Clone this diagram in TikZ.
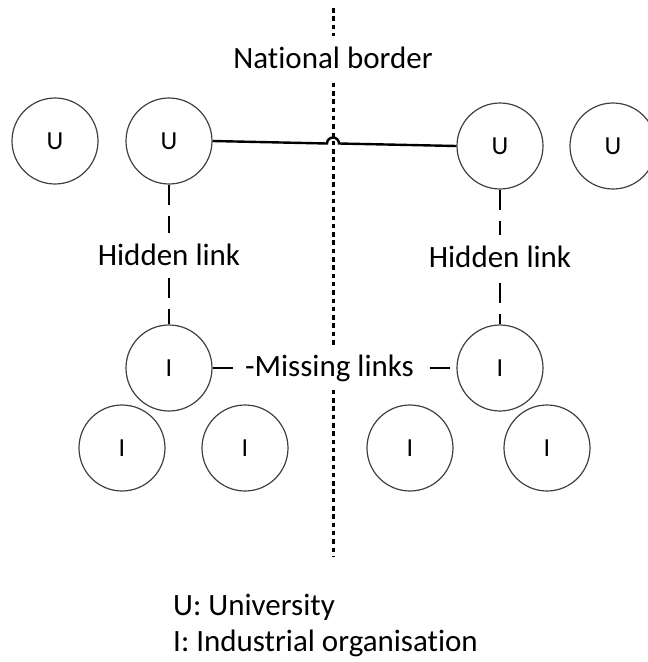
\documentclass[tikz,border=0pt]{standalone}
\usepackage{fontspec}
\setmainfont[Ligatures={NoCommon}]{Carlito}
\begin{document}
\begin{tikzpicture}[x=1pt,y=-1pt,
  org/.style={circle, draw=black!75, line width=1.2pt, minimum size=86pt,
    inner sep=0pt, font=\fontsize{26}{30}\selectfont},
  tag/.style={fill=white, inner xsep=8pt, inner ysep=0pt, minimum height=44pt,
    font=\fontsize{31}{37}\selectfont},
  legend/.style={anchor=base west, inner sep=0pt, font=\fontsize{31}{37}\selectfont},
  border/.style={line width=3pt, dash pattern=on 4.5pt off 3.8pt},
  hidden/.style={line width=2.8pt, dash pattern=on 20pt off 11pt},
  tie/.style={line width=2.4pt},
]
\useasboundingbox (0,0) rectangle (648,662);

% universities
\node[org] (u1) at (55,141) {U};
\node[org] (u2) at (169,141) {U};
\node[org] (u3) at (500,146) {U};
\node[org] (u4) at (613,146) {U};

% industrial organisations
\node[org] (i1) at (169,368) {I};
\node[org] (i2) at (500,368) {I};
\node[org] (i3) at (122,448) {I};
\node[org] (i4) at (245,448) {I};
\node[org] (i5) at (410,448) {I};
\node[org] (i6) at (547,448) {I};

% the border between the two countries
\coordinate (btop) at (333,8);
\coordinate (bbot) at (333,557);
\draw[border] (btop) -- (bbot);

% cross-border university link, hopping over the border
\coordinate (hop) at (333,143.5);
\draw[tie] (u2.east) -- ([xshift=-6pt]hop)
  arc[start angle=180, end angle=0, radius=6pt] -- (u3.west);

% hidden links between universities and industry
\draw[hidden] (u2.south) -- (i1.north) node[tag, pos=0.5] (h1) {Hidden link};
\draw[hidden] (u3.south) -- (i2.north) node[tag, pos=0.5] (h2) {Hidden link};

% missing cross-border industry link
\draw[hidden] (i1.east) -- (i2.west)
  node[tag, pos=0.5, xshift=-5pt] (ml) {-Missing links};

\node[tag] (nb) at (333,58) {National border};

% legend
\node[legend] (legu) at (173,615) {U: University};
\node[legend] (legi) at (173,651) {I: Industrial organisation};
\end{tikzpicture}
\end{document}
